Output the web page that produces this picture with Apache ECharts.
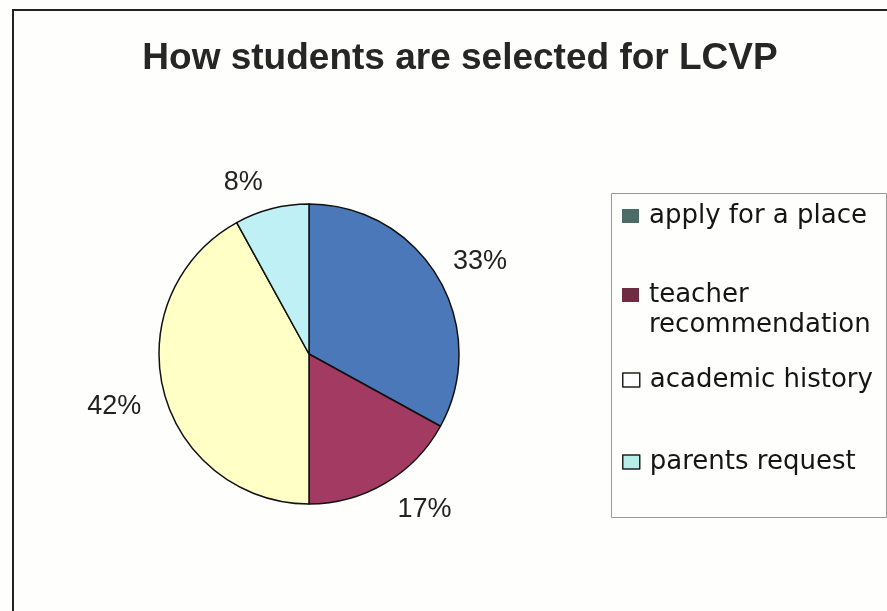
<!DOCTYPE html>
<html>
<head>
<meta charset="utf-8">
<script src="https://cdn.jsdelivr.net/npm/echarts@6/dist/echarts.min.js"></script>
<style>
html,body{margin:0;padding:0;background:#fefefc;}
#chart{width:887px;height:611px;}
</style>
</head>
<body>
<div id="chart"></div>
<script>
var titleText = 'How students are selected for LCVP';
var categories = ['apply for a place', 'teacher recommendation', 'academic history', 'parents request'];
var values = [33, 17, 42, 8];
var sliceColors = ['#4a78b8', '#a33a62', '#ffffc6', '#bff0f5'];
var legendIconColors = ['#4d6b66', '#6e2d43', '#ffffff', '#b8eee8'];

var chart = echarts.init(document.getElementById('chart'));

// small label nudges (layout only)
var labelNudge = [[-3, -8], [0, 13], [-3, 11], [-1, -11]];

var legendTops = [201, 250, 365, 447];
var legends = categories.map(function (c, i) {
  return {
    data: [{
      name: c,
      itemStyle: {
        color: legendIconColors[i],
        borderColor: i >= 2 ? '#222' : legendIconColors[i],
        borderWidth: i >= 2 ? 1.5 : 0
      }
    }],
    left: 622,
    top: legendTops[i],
    padding: 0,
    orient: 'vertical',
    icon: 'rect',
    itemWidth: 17,
    itemHeight: 14,
    selectedMode: false,
    formatter: function (name) {
      return name === 'teacher recommendation' ? ' \nteacher\nrecommendation' : name;
    },
    textStyle: {
      fontFamily: 'DejaVu Sans',
      fontSize: 26,
      color: '#151515',
      lineHeight: 30,
      padding: [0, 0, 0, 5]
    }
  };
});

chart.setOption({
  backgroundColor: '#fefefc',
  animation: false,
  title: {
    text: titleText,
    left: 455,
    top: 35,
    textAlign: 'center',
    textStyle: {
      fontFamily: 'Liberation Sans, Arial',
      fontWeight: 'bold',
      fontSize: 37,
      color: '#262626'
    }
  },
  legend: legends,
  graphic: [
    {
      type: 'polyline',
      shape: { points: [[13, 611], [13, 10], [887, 10]] },
      style: { stroke: '#222', lineWidth: 2, fill: null },
      silent: true
    },
    {
      type: 'rect',
      shape: { x: 611.5, y: 193.5, width: 275, height: 324 },
      style: { stroke: '#999', lineWidth: 1, fill: null },
      silent: true,
      z: -1
    }
  ],
  series: [{
    type: 'pie',
    center: [309, 354],
    radius: 150,
    startAngle: 90,
    clockwise: true,
    avoidLabelOverlap: false,
    data: categories.map(function (c, i) {
      return { name: c, value: values[i], itemStyle: { color: sliceColors[i] } };
    }),
    itemStyle: { borderColor: '#111', borderWidth: 1.5 },
    label: {
      show: true,
      position: 'outside',
      formatter: '{d}%',
      fontFamily: 'Liberation Sans, Arial',
      fontSize: 27,
      color: '#222',
      distanceToLabelLine: 4
    },
    labelLine: { show: false, length: 16, length2: 0 },
    labelLayout: function (p) {
      var n = labelNudge[p.dataIndex];
      return { dx: n[0], dy: n[1] };
    },
    emphasis: { disabled: true }
  }]
});
</script>
</body>
</html>
